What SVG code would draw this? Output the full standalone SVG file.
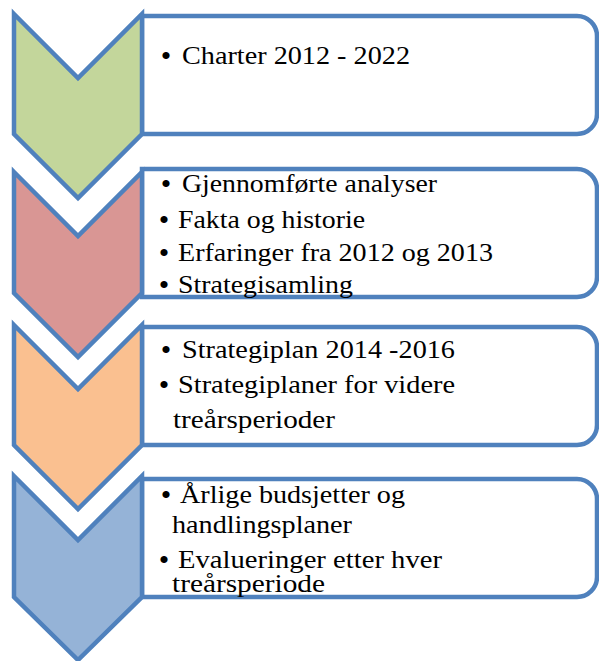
<svg xmlns="http://www.w3.org/2000/svg" width="599" height="661" viewBox="0 0 599 661">
<style>
.box{fill:#FFFFFF;stroke:#4F81BD;stroke-width:4.5;stroke-linejoin:miter}
.chev{stroke:#4F81BD;stroke-width:4.5;stroke-linejoin:miter}
.t{font-family:"Liberation Serif","Times New Roman",serif;font-size:26px;fill:#000000}
.b{font-family:"Liberation Serif","Times New Roman",serif;font-size:30px;fill:#000000;text-anchor:middle}
</style>
<rect width="599" height="661" fill="#FFFFFF"/>
<g id="stage1">
<path class="box" d="M142,16 H577 A20,20 0 0 1 597,36 V114 A20,20 0 0 1 577,134 H142 Z"/>
<path class="chev" fill="#C3D69B" d="M14,14 L78,78 L142,14 L142,134 L78,198 L14,134 Z"/>
<text class="b" x="166" y="66">•</text>
<text class="t" x="182" y="64" textLength="228" lengthAdjust="spacingAndGlyphs">Charter 2012 - 2022</text>
</g>
<g id="stage2">
<path class="box" d="M142,169 H577 A20,20 0 0 1 597,189 V277 A20,20 0 0 1 577,297 H142 Z"/>
<path class="chev" fill="#D99694" d="M14,172 L78,236 L142,172 L142,293 L78,357 L14,293 Z"/>
<text class="b" x="166" y="194">•</text>
<text class="t" x="182" y="192" textLength="255" lengthAdjust="spacingAndGlyphs">Gjennomførte analyser</text>
<text class="b" x="164" y="230">•</text>
<text class="t" x="178" y="228" textLength="187" lengthAdjust="spacingAndGlyphs">Fakta og historie</text>
<text class="b" x="164" y="263">•</text>
<text class="t" x="178" y="261" textLength="315" lengthAdjust="spacingAndGlyphs">Erfaringer fra 2012 og 2013</text>
<text class="b" x="164" y="295">•</text>
<text class="t" x="178" y="293" textLength="175" lengthAdjust="spacingAndGlyphs">Strategisamling</text>
</g>
<g id="stage3">
<path class="box" d="M142,327 H577 A20,20 0 0 1 597,347 V425 A20,20 0 0 1 577,445 H142 Z"/>
<path class="chev" fill="#FAC090" d="M14,325 L78,389 L142,325 L142,445 L78,509 L14,445 Z"/>
<text class="b" x="166" y="360">•</text>
<text class="t" x="182" y="358" textLength="273" lengthAdjust="spacingAndGlyphs">Strategiplan 2014 -2016</text>
<text class="b" x="164" y="395">•</text>
<text class="t" x="178" y="393" textLength="277" lengthAdjust="spacingAndGlyphs">Strategiplaner for videre</text>
<text class="t" x="173" y="428" textLength="162" lengthAdjust="spacingAndGlyphs">treårsperioder</text>
</g>
<g id="stage4">
<path class="box" d="M142,479 H577 A20,20 0 0 1 597,499 V577 A20,20 0 0 1 577,597 H142 Z"/>
<path class="chev" fill="#95B3D7" d="M14,476 L78,540 L142,476 L142,597 L78,660 L14,597 Z"/>
<text class="b" x="166" y="505">•</text>
<text class="t" x="180" y="503" textLength="225" lengthAdjust="spacingAndGlyphs">Årlige budsjetter og</text>
<text class="t" x="172" y="533" textLength="180" lengthAdjust="spacingAndGlyphs">handlingsplaner</text>
<text class="b" x="164" y="570">•</text>
<text class="t" x="178" y="568" textLength="264" lengthAdjust="spacingAndGlyphs">Evalueringer etter hver</text>
<text class="t" x="172" y="592" textLength="153" lengthAdjust="spacingAndGlyphs">treårsperiode</text>
</g>
<g id="connectors"/>
</svg>
